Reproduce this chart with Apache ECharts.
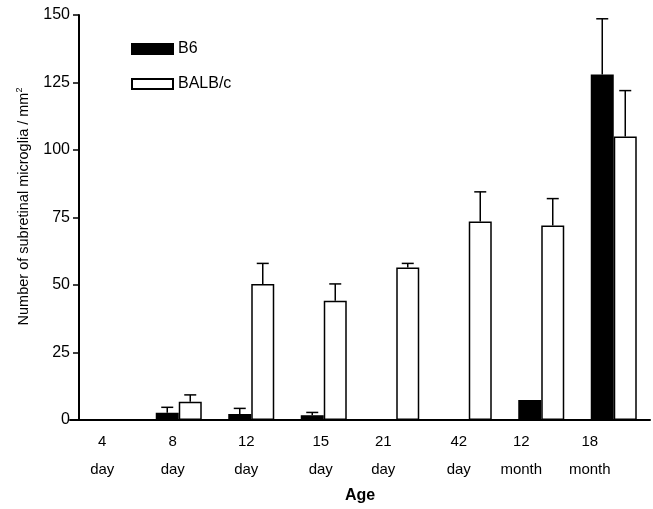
<!DOCTYPE html>
<html>
<head>
<meta charset="utf-8">
<script src="https://cdn.jsdelivr.net/npm/echarts@6/dist/echarts.min.js"></script>
<style>
  html, body { margin: 0; padding: 0; background: #fff; }
  #main { width: 653px; height: 509px; }
</style>
</head>
<body>
<div id="main"></div>
<script>
var ages = ['4\nday', '8\nday', '12\nday', '15\nday', '21\nday', '42\nday', '12\nmonth', '18\nmonth'];
var b6Mean = [0, 2.7, 2.2, 1.8, 0, 0, 7.4, 128];
var b6Err = [0, 2.0, 2.1, 1.0, 0, 0, 0, 20.6];
var balbMean = [0, 6.8, 50.4, 44.2, 56.5, 73.5, 72, 105];
var balbErr = [0, 2.5, 7.6, 6.2, 1.5, 11, 10, 17];
var yTicks = [0, 25, 50, 75, 100, 125, 150];

var dom = document.getElementById('main')
var chart = echarts.init(dom)

var font = 'Liberation Sans, Arial, sans-serif'
var barW = 23
// labels sit a bit left of their bar pairs in the original
var labelShift = [4, 6, 5, 3, 13, 10, 20, 24]

var rich = {}
labelShift.forEach(function (s, i) {
    rich['p' + i] = { fontSize: 15, lineHeight: 28, color: '#000', fontFamily: font, padding: [0, s * 2, 0, 0] }
})

function errSeries(mean, err, side) {
    return {
        type: 'custom',
        silent: true,
        z: 5,
        data: mean.map(function (m, i) { return [i, m, err[i]] }),
        renderItem: function (params, api) {
            var e = api.value(2)
            if (!e) return null
            var top = api.coord([api.value(0), api.value(1)])
            var tip = api.coord([api.value(0), api.value(1) + e])
            var x = top[0] + side * barW / 2
            return {
                type: 'group',
                children: [
                    { type: 'line', shape: { x1: x, y1: top[1], x2: x, y2: tip[1] }, style: { stroke: '#000', lineWidth: 1.5 } },
                    { type: 'line', shape: { x1: x - 6, y1: tip[1], x2: x + 6, y2: tip[1] }, style: { stroke: '#000', lineWidth: 1.5 } }
                ]
            }
        }
    }
}

var options = {
    backgroundColor: '#fff',
    animation: false,
    textStyle: { fontFamily: font },
    grid: { left: 70, right: 3, top: 15, bottom: 89, outerBoundsMode: 'none', containLabel: false },
    legend: {
        orient: 'vertical',
        left: 126,
        top: 36,
        itemWidth: 41,
        itemHeight: 10,
        itemGap: 19,
        icon: 'rect',
        textStyle: { fontSize: 16, color: '#000', fontFamily: font },
        data: ['B6', 'BALB/c']
    },
    xAxis: {
        type: 'category',
        data: ages,
        name: 'Age',
        nameLocation: 'middle',
        nameGap: 68,
        nameTextStyle: { fontSize: 16, fontWeight: 'bold', color: '#000', fontFamily: font },
        axisLine: { lineStyle: { color: '#000', width: 2 } },
        axisTick: { show: false },
        axisLabel: {
            interval: 0,
            margin: 8,
            formatter: function (v, i) {
                return v.split('\n').map(function (t) { return '{p' + i + '|' + t + '}' }).join('\n')
            },
            rich: rich
        }
    },
    yAxis: {
        type: 'value',
        min: 0,
        max: 150,
        interval: 25,
        offset: -9,
        name: 'Number of subretinal microglia / mm{sup|2}',
        nameLocation: 'middle',
        nameGap: 46,
        nameTextStyle: {
            fontSize: 14.5, color: '#000', fontFamily: font,
            padding: [0, 0, 0, 22],
            rich: { sup: { fontSize: 9, verticalAlign: 'top', padding: [0, 0, 9, 0], color: '#000', fontFamily: font } }
        },
        axisLine: { show: true, lineStyle: { color: '#000', width: 2 } },
        axisTick: { show: true, length: 6, lineStyle: { color: '#000', width: 1.5 } },
        axisLabel: { fontSize: 16, color: '#000', margin: 9, fontFamily: font,
            formatter: function (v) { return yTicks.indexOf(v) >= 0 ? String(v) : '' } },
        splitLine: { show: false }
    },
    series: [
        {
            name: 'B6',
            type: 'bar',
            barWidth: barW,
            barGap: '0%',
            data: b6Mean,
            itemStyle: { color: '#000', borderColor: '#000', borderWidth: 1.5 }
        },
        {
            name: 'BALB/c',
            type: 'bar',
            barWidth: barW,
            barGap: '0%',
            data: balbMean,
            itemStyle: { color: '#fff', borderColor: '#000', borderWidth: 1.5 }
        },
        errSeries(b6Mean, b6Err, -1),
        errSeries(balbMean, balbErr, 1)
    ]
}

chart.setOption(options)
</script>
</body>
</html>
